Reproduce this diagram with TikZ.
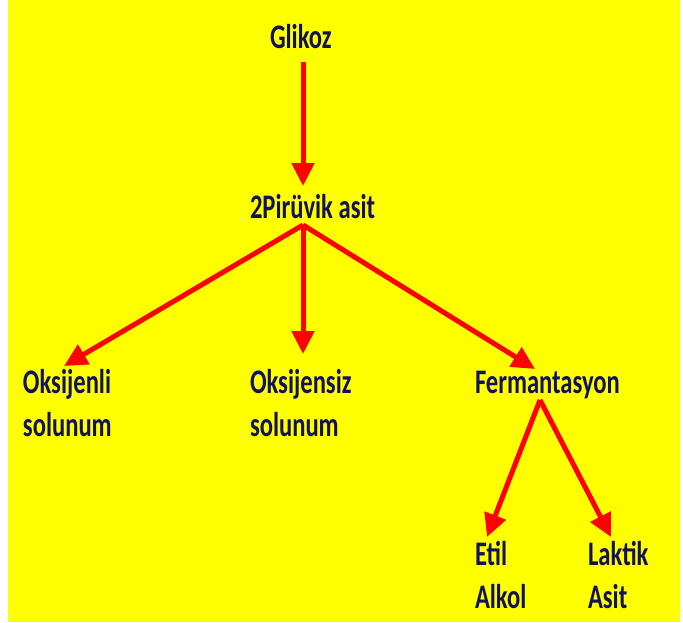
\documentclass[tikz,border=0pt]{standalone}
\usepackage{fontspec}
\setmainfont{Carlito}
\usetikzlibrary{arrows.meta}
\definecolor{bgyellow}{RGB}{255,255,0}
\definecolor{navytext}{RGB}{18,18,92}
\definecolor{arrred}{RGB}{255,0,0}
\newcommand{\tall}[1]{\scalebox{1}[1.4]{#1}}
\tikzset{
  lbl/.style={inner sep=0pt, outer sep=0pt, anchor=base west, text=navytext,
    font=\fontsize{24.6}{31}\selectfont\bfseries},
  arr/.style={draw=arrred, line width=5pt,
    -{Triangle[length=23pt,width=22pt]}},
}
\begin{document}
\begin{tikzpicture}[x=1pt,y=-1pt]
\useasboundingbox (0,0) rectangle (683,622);
\fill[white] (0,0) rectangle (683,622);
\fill[bgyellow] (8,0) rectangle (680,622);
% text nodes
\node[lbl] (glikoz) at (270,48) {\tall{Glikoz}};
\node[lbl] (piruvik) at (250,218) {\tall{2Pirüvik asit}};
\node[lbl] (oksli) at (23,393) {\tall{\begin{tabular}[t]{@{}l@{}}Oksijenli\\solunum\end{tabular}}};
\node[lbl] (okssiz) at (250,393) {\tall{\begin{tabular}[t]{@{}l@{}}Oksijensiz\\solunum\end{tabular}}};
\node[lbl] (ferm) at (475,393) {\tall{Fermantasyon}};
\node[lbl] (etil) at (475,565) {\tall{\begin{tabular}[t]{@{}l@{}}Etil\\Alkol\end{tabular}}};
\node[lbl] (laktik) at (588,565) {\tall{\begin{tabular}[t]{@{}l@{}}Laktik\\Asit\end{tabular}}};
% connector points
\coordinate (gout) at (303,62);
\coordinate (pin) at (303,186);
\coordinate (pout) at (303,225);
\coordinate (oliin) at (64,366);
\coordinate (osiin) at (303,354);
\coordinate (fin) at (535,369);
\coordinate (fout) at (540,400);
\coordinate (ein) at (487,537);
\coordinate (lin) at (611,537);
% connectors
\draw[arr] (gout) -- (pin);
\draw[arr] (pout) -- (oliin);
\draw[arr] (pout) -- (osiin);
\draw[arr] (pout) -- (fin);
\draw[arr] (fout) -- (ein);
\draw[arr] (fout) -- (lin);
\end{tikzpicture}
\end{document}
